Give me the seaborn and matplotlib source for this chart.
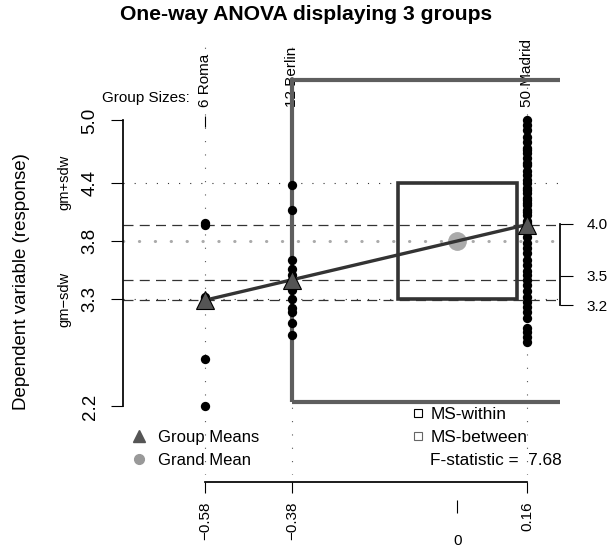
import numpy as np
import pandas as pd
import matplotlib.pyplot as plt
import seaborn as sns
from matplotlib.lines import Line2D
from matplotlib.patches import Rectangle

# Estilo
sns.set_theme(style="ticks", rc={
    'axes.edgecolor': 'black', 'xtick.color': 'black', 'ytick.color': 'black',
    'text.color': 'black', 'axes.labelcolor': 'black',
})
plt.rcParams['font.family'] = ['Liberation Sans', 'DejaVu Sans']

# Datos
group_names = ['Roma', 'Berlin', 'Madrid']
roma = [4.0, 3.98, 3.27, 3.25, 2.66, 2.2]
berlin = [4.37, 4.12, 3.63, 3.55, 3.49, 3.41, 3.34, 3.25, 3.16, 3.12, 3.02, 2.9]
madrid = [5.0, 4.96, 4.91, 4.84, 4.79, 4.73, 4.71, 4.68, 4.63, 4.58,
          4.56, 4.51, 4.47, 4.42, 4.39, 4.34, 4.32, 4.29, 4.24, 4.22,
          4.19, 4.17, 4.12, 4.10, 4.07, 4.02, 4.00, 3.96, 3.93, 3.91,
          3.86, 3.80, 3.75, 3.70, 3.63, 3.58, 3.53, 3.49, 3.44, 3.39,
          3.33, 3.27, 3.22, 3.17, 3.12, 3.07, 2.97, 2.93, 2.88, 2.83]
group_means = [3.24, 3.44, 3.98]
grand_mean = 3.82
sd_within = 0.57
f_stat = 7.68
y_ticklabels = ['2.2', '3.3', '3.8', '4.4', '5.0']
mean_label_pos = [3.19, 3.48, 3.99]
mean_labels = ['3.2', '3.5', '4.0']

groups = [roma, berlin, madrid]
contrasts = [m - grand_mean for m in group_means]
df = pd.DataFrame({
    'contrast': np.repeat(contrasts, [len(g) for g in groups]),
    'value': np.concatenate(groups),
})

W, H = 609, 553
fig = plt.figure(figsize=(W / 100, H / 100), dpi=100)
ax = fig.add_axes([123 / W, (H - 475) / H, 437 / W, 435 / H])
ax.set_xlim(-0.7686, 0.2358)
ax.set_ylim(1.528, 5.788)

# lineas de referencia
for c in contrasts:
    ax.axvline(c, color='#555555', lw=0.8, ls=(0, (1, 11)), zorder=1)
for y in [grand_mean - sd_within, grand_mean + sd_within]:
    ax.axhline(y, color='#333333', lw=0.8, ls=(0, (1, 9)), zorder=1)
for m in group_means:
    ax.axhline(m, color='#333333', lw=0.9, ls=(0, (8, 5)), zorder=1)
ax.axhline(grand_mean, color='#aaaaaa', lw=2.2, ls=(0, (0.1, 5.1)),
           dash_capstyle='round', zorder=1)

# cuadrados MS-within / MS-between
k = 0.24
sd_between = sd_within * np.sqrt(f_stat)
ax.add_patch(Rectangle((-sd_between * k, grand_mean - sd_between),
                       2 * sd_between * k, 2 * sd_between,
                       fill=False, ec='#5e5e5e', lw=3, zorder=2))
ax.add_patch(Rectangle((-sd_within * k, grand_mean - sd_within),
                       2 * sd_within * k, 2 * sd_within,
                       fill=False, ec='#333333', lw=2.6, zorder=2))

# puntos
sns.scatterplot(data=df, x='contrast', y='value', color='black', s=45,
                linewidth=0, ax=ax, zorder=3, legend=False)
ax.plot([0], [grand_mean], 'o', ms=12.5, color='#aaaaaa', zorder=3.5)
ax.plot(contrasts, group_means, color='#333333', lw=2.4, zorder=4)
ax.plot(contrasts, group_means, ls='none', marker='^', ms=13,
        mfc='#555555', mec='black', mew=0.8, zorder=6)

# ejes
sns.despine(ax=ax, top=True, right=True)
ax.spines['left'].set_bounds(min(df['value']), max(df['value']))
y_ticks = [min(df['value']), grand_mean - sd_within, grand_mean,
           grand_mean + sd_within, max(df['value'])]
ax.set_yticks(y_ticks, y_ticklabels, rotation=90, va='center')
ax.tick_params(axis='y', length=8.6, width=0.8, pad=9, labelsize=13.5)

ax.spines['bottom'].set_position(('outward', 5))
ax.spines['bottom'].set_bounds(min(contrasts), max(contrasts))
ax.set_xticks(contrasts, [f'{c:.2f}'.replace('-', '\u2212') for c in contrasts],
              rotation=90)
ax.tick_params(axis='x', length=8, width=0.8, pad=6, labelsize=11)
ax.set_xlabel('')

ax.set_ylabel('Dependent variable (response)', fontsize=13.5, va='center')
ax.yaxis.set_label_coords((22 - 123) / 437, (475 - 282) / 435)

top = ax.secondary_xaxis((475 - 127) / 435)
top.set_xticks(contrasts, [f'{len(g)} {n}' for g, n in zip(groups, group_names)],
               rotation=90)
top.tick_params(length=8, width=0.8, pad=6.5, labelsize=11)
for s in top.spines.values():
    s.set_visible(False)

zero = ax.secondary_xaxis(-(500 - 475) / 435)
zero.set_xticks([0], ['0'])
zero.tick_params(length=9.4, width=0.8, pad=15, labelsize=11)
for s in zero.spines.values():
    s.set_visible(False)

rax = ax.secondary_yaxis(1.0)
rax.set_yticks(mean_label_pos, mean_labels)
rax.spines['right'].set_bounds(min(mean_label_pos), max(mean_label_pos))
rax.tick_params(length=9.4, width=0.8, pad=10, labelsize=11)

sax = ax.secondary_yaxis(0.0)
sax.set_yticks([grand_mean - sd_within, grand_mean + sd_within],
               ['gm\u2212sdw', 'gm+sdw'], rotation=90, va='center')
sax.tick_params(length=0, pad=37, labelsize=10.5)
for s in sax.spines.values():
    s.set_visible(False)

# textos y leyendas
fig.suptitle('One-way ANOVA displaying 3 groups', x=306 / W, y=1 - 15 / H,
             va='center', fontsize=15.2, fontweight='bold')
fig.text(190 / W, 1 - 98 / H, 'Group Sizes:', ha='right', va='center', fontsize=11)

h1 = [Line2D([], [], ls='none', marker='^', ms=8, color='#555555'),
      Line2D([], [], ls='none', marker='o', ms=7, color='#999999')]
fig.legend(h1, ['Group Means', 'Grand Mean'], loc='upper left',
           bbox_to_anchor=(131 / W, 1 - 430 / H), frameon=False, fontsize=12,
           handlelength=1.0, handletextpad=0.6, labelspacing=0.48,
           borderpad=0, borderaxespad=0)
h2 = [Line2D([], [], ls='none', marker='s', ms=5.5, mfc='none', mec='black', mew=0.8),
      Line2D([], [], ls='none', marker='s', ms=5.5, mfc='none', mec='#666666', mew=0.8),
      Line2D([], [], ls='none')]
fig.legend(h2, ['MS-within', 'MS-between', f'F-statistic =  {f_stat:.2f}'],
           loc='upper left', bbox_to_anchor=(409 / W, 1 - 407 / H),
           frameon=False, fontsize=12.4, handlelength=1.0, handletextpad=0.24,
           labelspacing=0.45, borderpad=0, borderaxespad=0)

fig.savefig('out.png', dpi=100)
